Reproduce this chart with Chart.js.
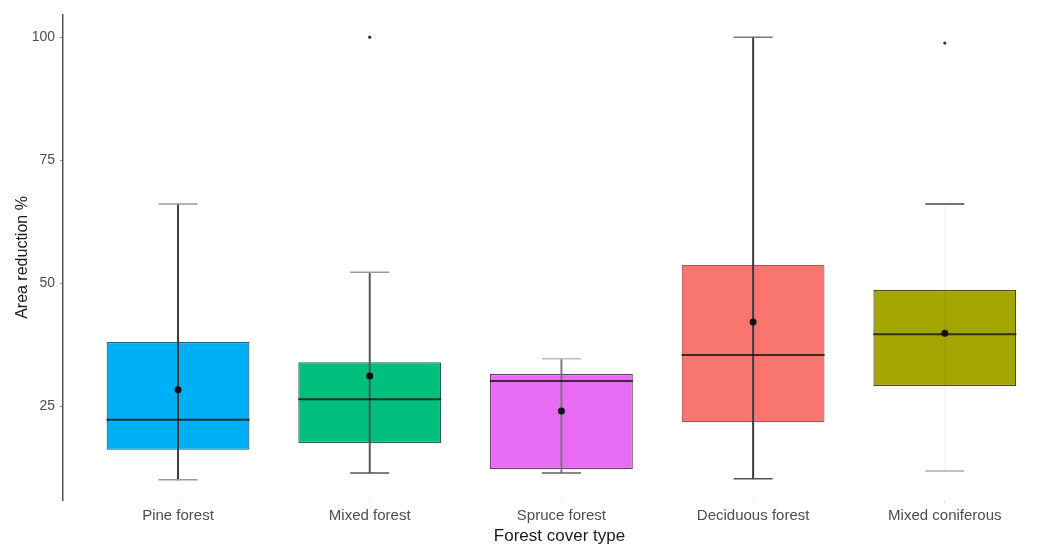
<!DOCTYPE html>
<html lang="en">
<head>
    <meta charset="UTF-8">
    <title>Area reduction by forest cover type</title>
    <script src="https://cdn.jsdelivr.net/npm/chart.js"></script>
    <style>
        body { margin: 0; background: #fff; }
        #wrap { width: 1056px; height: 545px; position: relative; }
    </style>
</head>
<body>
    <div id="wrap">
        <canvas id="boxChart"></canvas>
    </div>

    <script>
        // Box plot values (Area reduction %)
        const categories = ['Pine forest', 'Mixed forest', 'Spruce forest', 'Deciduous forest', 'Mixed coniferous'];
        const q1 = [16.1, 17.5, 12.2, 21.7, 29.1];
        const q3 = [38.0, 33.9, 31.5, 53.7, 48.6];
        const medians = [22.2, 26.4, 30.1, 35.4, 39.6];
        const means = [28.3, 31.1, 24.0, 42.1, 39.8];
        const whiskerLow = [10.0, 11.4, 11.4, 10.2, 11.8];
        const whiskerHigh = [66.1, 52.2, 34.6, 100, 66.1];
        const outliers = [null, 100, null, null, 98.8];
        const yTicks = [25, 50, 75, 100];

        // colours
        const fills = ['#00B0F6', '#00BF7D', '#E76BF3', '#F8766D', '#A3A500'];
        const edges = ['#1b5f80', '#1d6a4c', '#6a3a72', '#a85850', '#4a4a10'];
        const whiskerColors = ['#3a3a3a', '#555555', '#8a6a8c', '#3a3a3a', 'rgba(0,0,0,0.035)'];
        const lowCapColors = ['#9a9a9a', '#555555', '#6a5a70', '#555555', '#aaaaaa'];
        const highCapColors = ['#9a9a9a', '#9a9a9a', '#bbbbbb', '#777777', '#444444'];

        const xy = arr => arr.map((v, i) => ({ x: i, y: v }));
        const font = 'Liberation Sans, Arial, sans-serif';

        new Chart(document.getElementById('boxChart'), {
            type: 'bar',
            data: {
                datasets: [
                    {
                        label: 'IQR',
                        data: q1.map((v, i) => ({ x: i, y: [v, q3[i]] })),
                        backgroundColor: fills,
                        borderColor: edges,
                        borderWidth: 1.2,
                        borderSkipped: false,
                        grouped: false,
                        barPercentage: 0.745,
                        categoryPercentage: 1,
                        order: 5
                    },
                    {
                        label: 'Whisker',
                        data: whiskerLow.map((v, i) => ({ x: i, y: [v, whiskerHigh[i]] })),
                        backgroundColor: whiskerColors,
                        borderWidth: 0,
                        grouped: false,
                        barThickness: 1.3,
                        order: 4
                    },
                    {
                        type: 'line',
                        label: 'Lower cap',
                        data: xy(whiskerLow),
                        showLine: false,
                        pointStyle: 'line',
                        pointRadius: 19.5,
                        pointBorderWidth: 1.5,
                        pointBorderColor: lowCapColors,
                        order: 3
                    },
                    {
                        type: 'line',
                        label: 'Upper cap',
                        data: xy(whiskerHigh),
                        showLine: false,
                        pointStyle: 'line',
                        pointRadius: 19.5,
                        pointBorderWidth: 1.5,
                        pointBorderColor: highCapColors,
                        order: 3
                    },
                    {
                        type: 'line',
                        label: 'Median',
                        data: xy(medians),
                        showLine: false,
                        pointStyle: 'line',
                        pointRadius: 71.5,
                        pointBorderWidth: 2,
                        pointBorderColor: 'rgba(20,20,20,0.8)',
                        order: 2
                    },
                    {
                        type: 'line',
                        label: 'Mean',
                        data: xy(means),
                        showLine: false,
                        pointStyle: 'circle',
                        pointRadius: 3.5,
                        pointBackgroundColor: '#111',
                        pointBorderColor: '#111',
                        pointBorderWidth: 0,
                        order: 1
                    },
                    {
                        type: 'line',
                        label: 'Outliers',
                        data: xy(outliers),
                        showLine: false,
                        pointStyle: 'circle',
                        pointRadius: 1.6,
                        pointBackgroundColor: '#333',
                        pointBorderColor: '#333',
                        pointBorderWidth: 0,
                        order: 1
                    }
                ]
            },
            options: {
                responsive: true,
                maintainAspectRatio: false,
                animation: false,
                layout: { autoPadding: false, padding: { top: 15, left: 0, right: 0, bottom: 0 } },
                plugins: {
                    legend: { display: false },
                    tooltip: { enabled: false }
                },
                scales: {
                    x: {
                        type: 'linear',
                        min: -0.6,
                        max: 4.58,
                        offset: false,
                        afterBuildTicks: scale => { scale.ticks = categories.map((c, i) => ({ value: i })); },
                        afterFit: scale => { scale.height = 45; },
                        grid: { offset: false, drawOnChartArea: false, drawTicks: true, tickLength: 3, color: '#e4e4e4' },
                        border: { display: false },
                        ticks: {
                            autoSkip: false,
                            maxRotation: 0,
                            padding: 4,
                            color: '#4d4d4d',
                            font: { family: font, size: 15 },
                            callback: v => categories[v]
                        },
                        title: {
                            display: true,
                            text: 'Forest cover type',
                            color: '#1a1a1a',
                            font: { family: font, size: 17 },
                            padding: { top: 0, bottom: -2 }
                        }
                    },
                    y: {
                        min: 5.9,
                        max: 104.5,
                        afterBuildTicks: scale => { scale.ticks = yTicks.map(v => ({ value: v })); },
                        afterFit: scale => { scale.width = 63; },
                        grid: { drawOnChartArea: false, drawTicks: true, tickLength: 3, color: '#888' },
                        border: { display: true, color: '#555', width: 1.5 },
                        ticks: {
                            padding: 5,
                            color: '#4d4d4d',
                            font: { family: font, size: 14 }
                        },
                        title: {
                            display: true,
                            text: 'Area reduction %',
                            color: '#1a1a1a',
                            font: { family: font, size: 16 },
                            padding: { top: 13, bottom: 0 }
                        }
                    }
                }
            }
        });
    </script>
</body>
</html>
